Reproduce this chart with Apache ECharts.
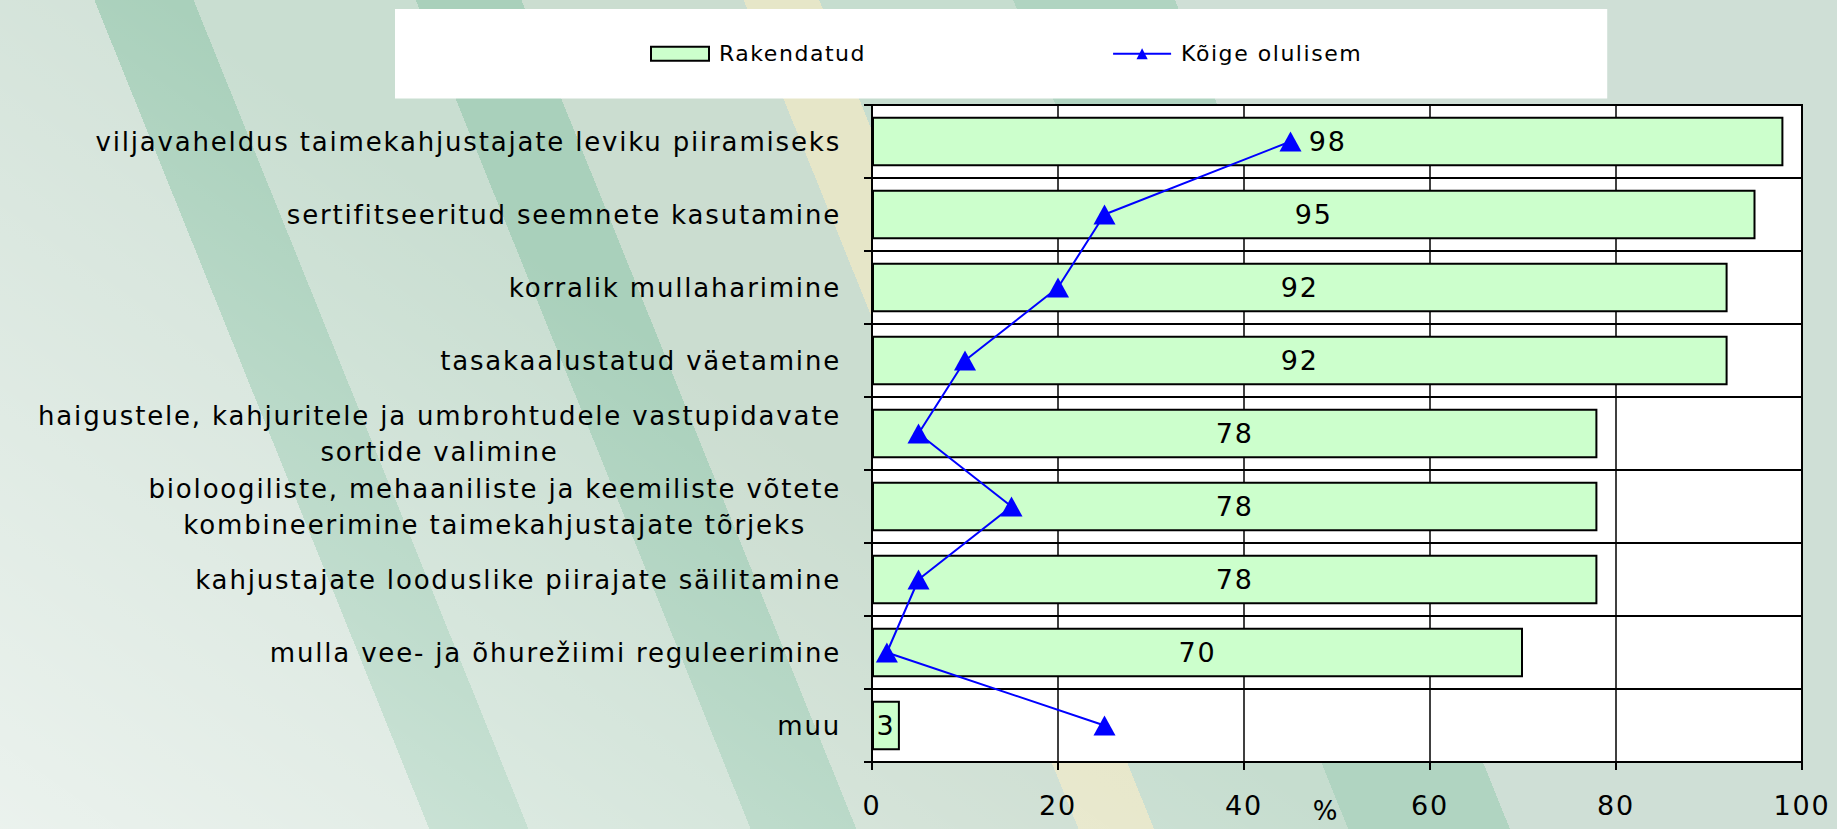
<!DOCTYPE html>
<html>
<head>
<meta charset="utf-8">
<title>Rakendatud võtted</title>
<script src="https://cdn.jsdelivr.net/npm/echarts@6/dist/echarts.min.js"></script>
<style>
  html, body { margin: 0; padding: 0; }
  body {
    width: 1837px; height: 829px; overflow: hidden;
    background:
      linear-gradient(35deg, rgba(255,255,255,0.55) 0%, rgba(255,255,255,0) 45%),
      linear-gradient(68deg,
        #d2e2d8 0px, #d2e2d8 398px,
        #a9d0bb 398px, #a9d0bb 490px,
        #c9ded1 490px, #c9ded1 696px,
        #a9d0bb 696px, #a9d0bb 794px,
        #cbddd0 794px, #cbddd0 1000px,
        #e6e6c8 1000px, #e6e6c8 1070px,
        #c6ddcf 1070px, #c6ddcf 1250px,
        #b0d4c1 1250px, #b0d4c1 1400px,
        #cfdfd6 1400px);
  }
  #chart { width: 1837px; height: 829px; }
  /* the source text is drawn with a little extra tracking */
  #chart svg text { letter-spacing: 0.07em; }
</style>
</head>
<body>
<div id="chart"></div>
<script>
const categories = [
  'viljavaheldus taimekahjustajate leviku piiramiseks',
  'sertifitseeritud seemnete kasutamine',
  'korralik mullaharimine',
  'tasakaalustatud väetamine',
  'haigustele, kahjuritele ja umbrohtudele vastupidavate\nsortide valimine',
  'bioloogiliste, mehaaniliste ja keemiliste võtete\nkombineerimine taimekahjustajate tõrjeks',
  'kahjustajate looduslike piirajate säilitamine',
  'mulla vee- ja õhurežiimi reguleerimine',
  'muu'
];
const applied = [98, 95, 92, 92, 78, 78, 78, 70, 3];
const mostImportant = [45, 25, 20, 10, 5, 15, 5, 1.6, 25];
const xTicks = { min: 0, max: 100, interval: 20 };

const FONT = 'DejaVu Sans';
const LS = 0.07;

// measure text with the same tracking the css adds
const mctx = document.createElement('canvas').getContext('2d');
echarts.setPlatformAPI({
  measureText: function (text, font) {
    mctx.font = font;
    const m = /(\d+(\.\d+)?)px/.exec(font);
    const size = m ? parseFloat(m[1]) : 12;
    const w = mctx.measureText(text).width + Array.from(text).length * size * LS;
    return { width: w };
  }
});

const chart = echarts.init(document.getElementById('chart'), null, { renderer: 'svg' });

const option = {
  animation: false,
  textStyle: { fontFamily: FONT, color: '#000' },
  legend: {
    top: 9,
    left: 395,
    padding: [33, 245, 33, 255],
    backgroundColor: '#fff',
    itemWidth: 58,
    itemHeight: 14,
    itemGap: 246,
    textStyle: { fontFamily: FONT, fontSize: 22, color: '#000', padding: [0, 0, 0, 5] },
    data: [{ name: 'Rakendatud', icon: 'rect' }, { name: 'Kõige olulisem' }]
  },
  grid: {
    left: 872, right: 35, top: 105, bottom: 67,
    show: true, backgroundColor: '#fff', borderColor: '#000', borderWidth: 2,
    containLabel: false, outerBoundsMode: 'none'
  },
  xAxis: {
    type: 'value',
    min: xTicks.min, max: xTicks.max, interval: xTicks.interval,
    name: '%',
    nameLocation: 'middle',
    nameGap: 35,
    nameMoveOverlap: false,
    nameTextStyle: { fontFamily: FONT, fontSize: 26, color: '#000', padding: [0, 22, 0, 0] },
    axisLine: { show: true, lineStyle: { color: '#000', width: 2 } },
    axisTick: { show: true, length: 8, lineStyle: { color: '#000', width: 2 } },
    axisLabel: { fontFamily: FONT, fontSize: 27, color: '#000', margin: 29 },
    splitLine: { show: true, lineStyle: { color: '#000', width: 1.5 } }
  },
  yAxis: {
    type: 'category',
    data: categories,
    inverse: true,
    axisLine: { show: true, lineStyle: { color: '#000', width: 2 } },
    axisTick: { show: true, length: 8, lineStyle: { color: '#000', width: 2 } },
    splitLine: { show: true, lineStyle: { color: '#000', width: 2 } },
    axisLabel: {
      interval: 0,
      margin: 31,
      fontFamily: FONT,
      fontSize: 26,
      lineHeight: 36,
      color: '#000',
      formatter: function (value) {
        if (value.indexOf('\n') < 0) return value;
        return value.split('\n').map(function (s) { return '{c|' + s + '}'; }).join('\n');
      },
      rich: {
        c: { align: 'center', fontFamily: FONT, fontSize: 26, lineHeight: 36, color: '#000' }
      }
    }
  },
  series: [
    {
      name: 'Rakendatud',
      type: 'bar',
      data: applied,
      barCategoryGap: '32%',
      itemStyle: { color: '#ccffcc', borderColor: '#000', borderWidth: 2 },
      label: {
        show: true, position: 'inside', color: '#000',
        fontFamily: FONT, fontSize: 27
      }
    },
    {
      name: 'Kõige olulisem',
      type: 'line',
      data: mostImportant,
      z: 3,
      symbol: 'triangle',
      symbolSize: [22, 20],
      showAllSymbol: true,
      lineStyle: { color: '#0000ff', width: 2 },
      itemStyle: { color: '#0000ff' }
    }
  ]
};

chart.setOption(option);
</script>
</body>
</html>
